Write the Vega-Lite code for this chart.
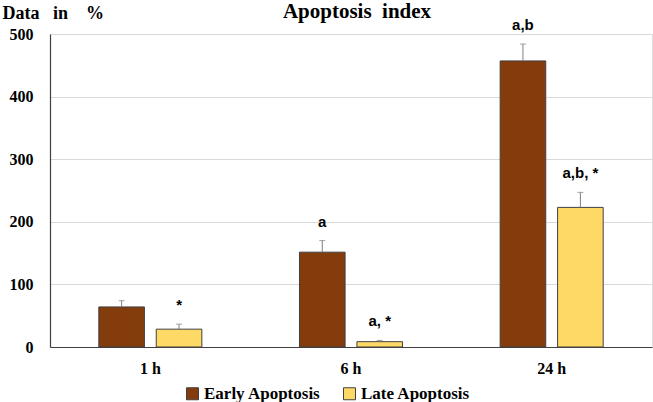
{
  "$schema": "https://vega.github.io/schema/vega-lite/v6.json",
  "autosize": "none",
  "width": 602,
  "height": 313,
  "padding": {"left": 50, "top": 34, "right": 1, "bottom": 55},
  "background": "white",
  "config": {
    "axis": {"labelFont": "Liberation Serif", "labelFontSize": 16, "labelFontWeight": "bold", "labelColor": "#000000", "titleFont": "Liberation Serif", "titleFontSize": 18, "titleFontWeight": "bold", "titleColor": "#000000", "ticks": false, "domainColor": "#404040", "domainWidth": 1.2, "gridColor": "#d9d9d9", "gridWidth": 1},
    "legend": {"labelFont": "Liberation Serif", "labelFontSize": 17, "labelFontWeight": "bold", "labelColor": "#000000"},
    "title": {"font": "Liberation Serif", "fontSize": 21, "fontWeight": "bold", "color": "#000000"}
  },
  "title": {"text": "Apoptosis\u00a0\u00a0index", "anchor": "middle", "frame": "group", "baseline": "alphabetic", "dx": 6, "offset": 0, "dy": 35},
  "data": {"values": [
    {"time": "1 h", "type": "Early Apoptosis", "value": 64, "hi": 74, "label": ""},
    {"time": "1 h", "type": "Late Apoptosis", "value": 28.5, "hi": 36.5, "label": "*"},
    {"time": "6 h", "type": "Early Apoptosis", "value": 151.5, "hi": 170, "label": "a"},
    {"time": "6 h", "type": "Late Apoptosis", "value": 8.5, "hi": 10.5, "label": "a, *"},
    {"time": "24 h", "type": "Early Apoptosis", "value": 457, "hi": 484, "label": "a,b"},
    {"time": "24 h", "type": "Late Apoptosis", "value": 223, "hi": 247, "label": "a,b, *"}
  ]},
  "encoding": {
    "x": {"field": "time", "type": "nominal", "sort": ["1 h", "6 h", "24 h"],
      "scale": {"paddingInner": 0, "paddingOuter": 0},
      "axis": {"title": null, "labelAngle": 0, "labelPadding": 13, "grid": false}},
    "xOffset": {"field": "type", "type": "nominal", "scale": {"paddingInner": 0.206, "paddingOuter": 0.85}}
  },
  "layer": [
    {
      "mark": {"type": "bar", "stroke": "#404040", "strokeWidth": 1},
      "encoding": {
        "y": {"field": "value", "type": "quantitative", "scale": {"domain": [0, 500], "nice": false},
          "axis": {"title": "Data\u00a0\u00a0\u00a0in\u00a0\u00a0\u00a0\u00a0%", "titleAngle": 0, "titleAlign": "left", "titleBaseline": "alphabetic", "titleX": -48, "titleY": -15.7,
            "values": [0, 100, 200, 300, 400, 500], "labelPadding": 17}},
        "color": {"field": "type", "type": "nominal",
          "scale": {"domain": ["Early Apoptosis", "Late Apoptosis"], "range": ["#843c0c", "#ffd966"]},
          "legend": {"title": null, "orient": "none", "direction": "horizontal", "legendX": 134, "legendY": 351, "padding": 0,
            "symbolType": "square", "symbolSize": 144, "symbolStrokeColor": "#404040", "symbolStrokeWidth": 1, "symbolOpacity": 1,
            "labelOffset": 3, "columnPadding": 20}}
      }
    },
    {
      "mark": {"type": "rule", "color": "#7f7f7f", "strokeWidth": 1},
      "encoding": {"y": {"field": "value", "type": "quantitative"}, "y2": {"field": "hi"}}
    },
    {
      "mark": {"type": "tick", "color": "#7f7f7f", "thickness": 1, "size": 6, "orient": "horizontal"},
      "encoding": {"y": {"field": "hi", "type": "quantitative"}}
    },
    {
      "mark": {"type": "text", "font": "Liberation Sans", "fontSize": 15, "fontWeight": "bold", "color": "#000000", "baseline": "alphabetic", "dy": -14},
      "encoding": {"y": {"field": "hi", "type": "quantitative"}, "text": {"field": "label"}}
    }
  ]
}
